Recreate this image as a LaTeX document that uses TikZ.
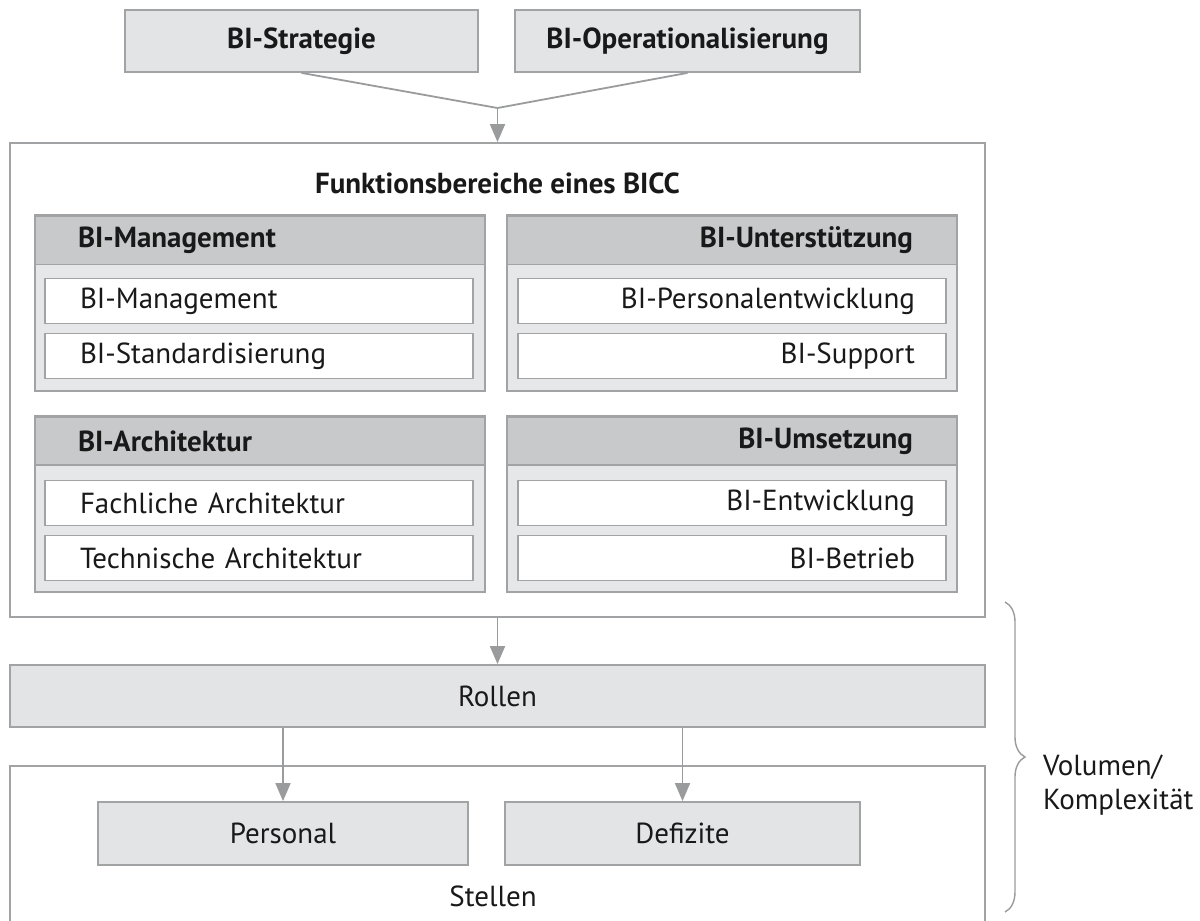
\documentclass[tikz,border=0pt]{standalone}
\usepackage{fontspec}
\setmainfont{PT Sans}
\usetikzlibrary{arrows.meta,decorations.pathreplacing}
\definecolor{boxgray}{HTML}{E3E4E5}
\definecolor{bodygray}{HTML}{E6E7E8}
\definecolor{headgray}{HTML}{C8C9CB}
\definecolor{linegray}{HTML}{A2A3A5}
\definecolor{arrgray}{HTML}{9A9B9D}
\tikzset{
  every node/.style={font=\fontsize{14.5pt}{17pt}\selectfont, text=black!90},
  box/.style={draw=linegray, line width=0.9pt, fill=boxgray, inner sep=0pt, minimum height=31pt},
  frame/.style={draw=linegray, line width=0.9pt, fill=white, inner sep=0pt},
  group/.style={draw=linegray, line width=0.9pt, fill=bodygray, inner sep=0pt, minimum width=225pt, minimum height=88pt},
  headl/.style={draw=linegray, line width=0.9pt, fill=headgray, font=\fontsize{14.5pt}{17pt}\selectfont\bfseries,
    minimum height=24pt, inner ysep=0pt, inner xsep=21.5pt, text width=182pt, align=left},
  headr/.style={headl, inner xsep=22pt, text width=181pt, align=right},
  iteml/.style={draw=linegray, line width=0.8pt, fill=white, minimum height=22.5pt, inner ysep=0pt,
    inner xsep=17.5pt, text width=179pt, align=left},
  itemr/.style={iteml, inner xsep=15.5pt, text width=183pt, align=right},
  arr/.style={draw=arrgray, line width=0.9pt, -{Triangle[length=9pt,width=7.5pt]}},
  conn/.style={draw=arrgray, line width=0.9pt}
}
\begin{document}
\begin{tikzpicture}[x=0.5pt,y=-0.5pt]
  \useasboundingbox (0,0) rectangle (1200,921);
  % Eingangsgroessen
  \node[box, minimum width=176.5pt, font=\fontsize{14.5pt}{17pt}\selectfont\bfseries] (strat) at (301.5,41) {BI-Strategie};
  \node[box, minimum width=172.5pt, font=\fontsize{14.5pt}{17pt}\selectfont\bfseries] (oper) at (687.5,41) {BI-Operationalisierung};
  \coordinate (merge) at (497.5,108);
  %
  % Funktionsbereiche
  \node[frame, minimum width=487.5pt, minimum height=237pt] (fb) at (497.5,380) {};
  \node[font=\fontsize{14.5pt}{17pt}\selectfont\bfseries] (fbtitle) at (497.5,183) {Funktionsbereiche eines BICC};
  %
  \node[group] (gmgmt) at (260,303) {};
  \node[headl] (hmgmt) at (260,240.5) {BI-Management};
  \node[iteml] (mgmt) at (259,301) {BI-Management};
  \node[iteml] (std) at (259,356) {BI-Standardisierung};
  %
  \node[group] (gsupp) at (732,303) {};
  \node[headr] (hsupp) at (732,240.5) {BI-Unterstützung};
  \node[itemr] (pers) at (732,301) {BI-Personalentwicklung};
  \node[itemr] (supp) at (732,356) {BI-Support};
  %
  \node[group] (garch) at (260,504) {};
  \node[headl] (harch) at (260,441) {BI-Architektur};
  \node[iteml] (farch) at (259,503) {Fachliche Architektur};
  \node[iteml] (tarch) at (259,558) {Technische Architektur};
  %
  \node[group] (gums) at (732,504) {};
  \node[headr] (hums) at (732,441) {BI-Umsetzung};
  \node[itemr] (entw) at (732,503) {BI-Entwicklung};
  \node[itemr] (betr) at (732,558) {BI-Betrieb};
  %
  % Rollen und Stellen
  \node[box, minimum width=487.5pt] (rollen) at (497.5,696) {Rollen};
  \draw[draw=linegray, line width=0.9pt] (10,925) -- (10,766) -- (985,766) -- (985,925);
  \node[box, minimum width=185pt, minimum height=31.5pt] (personal) at (283,833.5) {Personal};
  \node[box, minimum width=177.5pt, minimum height=31.5pt] (defizite) at (682.5,833.5) {Defizite};
  \node (stellen) at (493,896) {Stellen};
  %
  % Verbindungen
  \draw[conn] (strat.south) -- (merge);
  \draw[conn] (oper.south) -- (merge);
  \draw[arr] (merge) -- (fb.north);
  \draw[arr] (fb.south) -- (rollen.north);
  \draw[arr] (personal.north |- rollen.south) -- (personal.north);
  \draw[arr] (defizite.north |- rollen.south) -- (defizite.north);
  %
  % Klammer
  \draw[draw=arrgray, line width=0.7pt, decorate, decoration={brace, amplitude=10pt}] (1005,602) -- (1005,912);
  \node[anchor=west, align=left] (vol) at (1036,785) {Volumen/\\Komplexität};
\end{tikzpicture}
\end{document}
